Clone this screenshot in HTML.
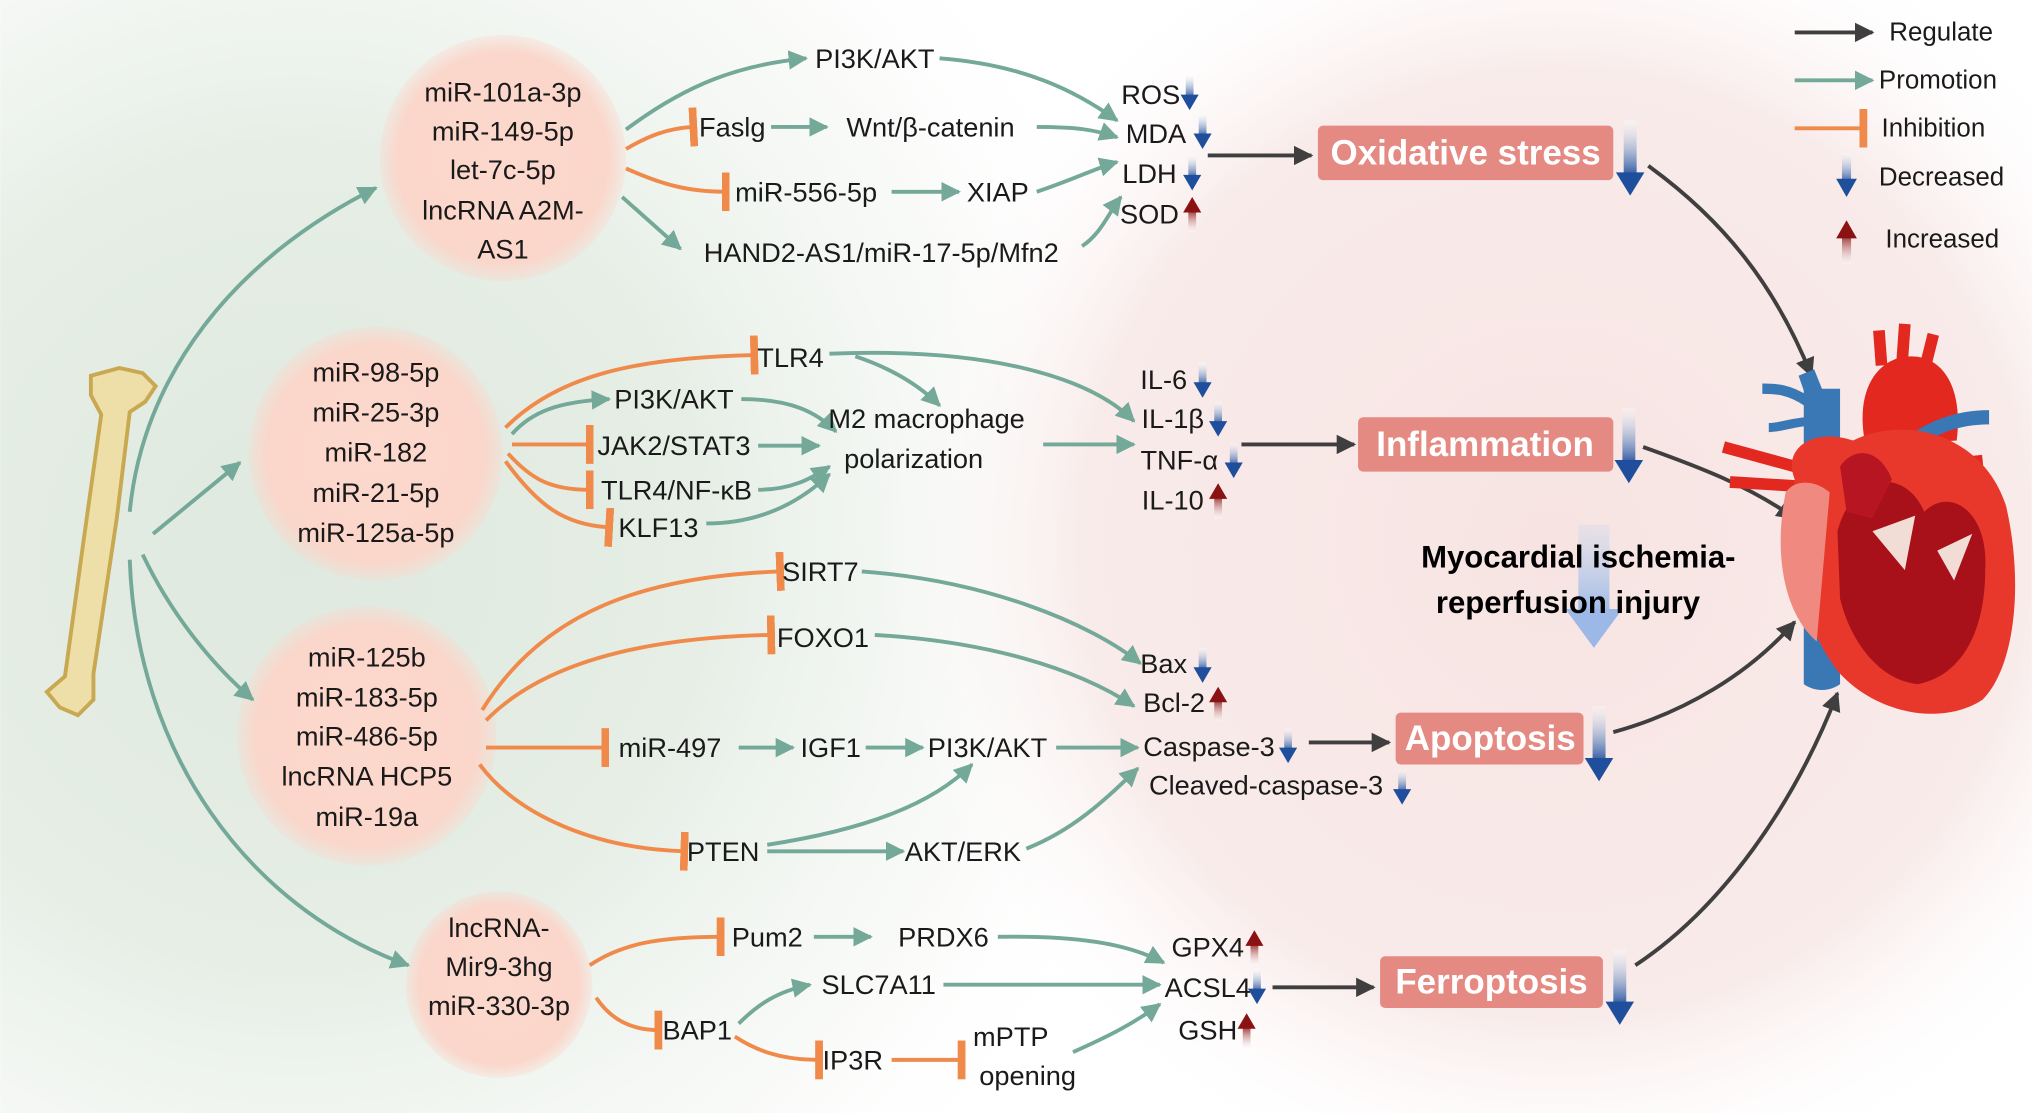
<!DOCTYPE html>
<html><head><meta charset="utf-8"><style>
html,body{margin:0;padding:0;background:#fff;}
svg{display:block;}
text{font-family:"Liberation Sans",sans-serif;fill:#1a1a1a;}
</style></head><body>
<svg width="2032" height="1113" viewBox="0 0 1568 859" xmlns="http://www.w3.org/2000/svg">
<defs>
<radialGradient id="bgG" cx="230" cy="430" r="700" gradientUnits="userSpaceOnUse">
<stop offset="0" stop-color="#dfe9df"/><stop offset="0.45" stop-color="#e6eee6"/><stop offset="0.8" stop-color="#f6f8f5" stop-opacity="0.6"/><stop offset="1" stop-color="#fff" stop-opacity="0"/></radialGradient>
<radialGradient id="bgP" cx="1200" cy="420" r="520" gradientUnits="userSpaceOnUse">
<stop offset="0" stop-color="#f7e4e2"/><stop offset="0.7" stop-color="#f8ebea"/><stop offset="1" stop-color="#fff" stop-opacity="0"/></radialGradient>
<radialGradient id="circ"><stop offset="0" stop-color="#fdd8cc"/><stop offset="0.85" stop-color="#fbd6ca"/><stop offset="1" stop-color="#fbd6ca" stop-opacity="0.3"/></radialGradient>
<linearGradient id="blue" x1="0" y1="0" x2="0" y2="1"><stop offset="0" stop-color="#fff" stop-opacity="0.3"/><stop offset="1" stop-color="#1f4e9c"/></linearGradient>
<linearGradient id="red" x1="0" y1="1" x2="0" y2="0"><stop offset="0" stop-color="#fff" stop-opacity="0.3"/><stop offset="1" stop-color="#8a1212"/></linearGradient>
<linearGradient id="lblue" x1="0" y1="0" x2="0" y2="1"><stop offset="0" stop-color="#c8d6ee" stop-opacity="0.3"/><stop offset="1" stop-color="#9bb8e6"/></linearGradient>
<marker id="ag" viewBox="0 0 10 10" refX="9" refY="5" markerWidth="5" markerHeight="5" orient="auto" markerUnits="strokeWidth"><path d="M0,0L10,5L0,10z" fill="#74a898"/></marker>
<marker id="ad" viewBox="0 0 10 10" refX="9" refY="5" markerWidth="5" markerHeight="5" orient="auto" markerUnits="strokeWidth"><path d="M0,0L10,5L0,10z" fill="#3f3f3f"/></marker>
<marker id="bo" viewBox="0 0 4 20" refX="2" refY="10" markerWidth="2" markerHeight="10" orient="auto" markerUnits="strokeWidth"><rect x="0" y="0" width="4" height="20" fill="#f08a4b"/></marker>
<g id="bd"><rect x="-3" y="0" width="6" height="18" fill="url(#blue)"/><path d="M-7,15L7,15L0,27z" fill="#1f4e9c"/></g>
<g id="ru"><rect x="-3" y="9" width="6" height="18" fill="url(#red)"/><path d="M-7,12L7,12L0,0z" fill="#8a1212"/></g>
<g id="bb"><rect x="-5" y="0" width="10" height="44" fill="url(#blue)"/><path d="M-11,40L11,40L0,58z" fill="#1f4e9c"/></g>
</defs>
<rect width="1568" height="859" fill="#fff"/>
<rect width="1568" height="859" fill="url(#bgG)"/>
<rect width="1568" height="859" fill="url(#bgP)"/>

<!-- bone -->
<path d="M70,290 L92,284 L110,288 L120,298 L112,310 L100,318 L90,400 L72,520 L72,540 L60,552 L46,546 L36,534 L50,522 L64,420 L78,320 L70,305z" fill="#eedfa8" stroke="#c9a852" stroke-width="3"/>

<!-- circles -->
<circle cx="388" cy="122" r="95" fill="url(#circ)"/>
<circle cx="290" cy="350" r="98" fill="url(#circ)"/>
<circle cx="283" cy="568" r="100" fill="url(#circ)"/>
<circle cx="385" cy="760" r="72" fill="url(#circ)"/>

<g font-size="21" text-anchor="middle" dominant-baseline="central">
<text x="388" y="71">miR-101a-3p</text><text x="388" y="101">miR-149-5p</text><text x="388" y="131">let-7c-5p</text><text x="388" y="162">lncRNA A2M-</text><text x="388" y="192">AS1</text>
<text x="290" y="287">miR-98-5p</text><text x="290" y="318">miR-25-3p</text><text x="290" y="349">miR-182</text><text x="290" y="380">miR-21-5p</text><text x="290" y="411">miR-125a-5p</text>
<text x="283" y="507">miR-125b</text><text x="283" y="538">miR-183-5p</text><text x="283" y="568">miR-486-5p</text><text x="283" y="599">lncRNA HCP5</text><text x="283" y="630">miR-19a</text>
<text x="385" y="716">lncRNA-</text><text x="385" y="746">Mir9-3hg</text><text x="385" y="776">miR-330-3p</text>
</g>

<!-- bone arrows -->
<g fill="none" stroke="#74a898" stroke-width="3" marker-end="url(#ag)">
<path d="M100,395 C110,290 180,200 290,145"/>
<path d="M118,412 L185,357"/>
<path d="M110,428 C130,470 160,510 195,540"/>
<path d="M100,432 C105,580 190,700 315,745"/>
</g>

<!-- green arrows -->
<g fill="none" stroke="#74a898" stroke-width="3" marker-end="url(#ag)">
<path d="M483,100 C530,65 570,50 622,45"/>
<path d="M725,45 C790,50 830,70 862,93"/>
<path d="M595,98 L638,98"/>
<path d="M800,98 C830,98 845,100 862,106"/>
<path d="M688,148 L740,148"/>
<path d="M800,148 C830,138 845,130 862,125"/>
<path d="M480,152 L525,192"/>
<path d="M835,190 C850,180 855,165 865,152"/>
<path d="M640,273 C760,268 840,290 875,325"/>
<path d="M660,275 C690,285 710,298 725,313"/>
<path d="M395,335 C410,318 430,310 470,308"/>
<path d="M572,308 C610,308 630,318 645,333"/>
<path d="M585,344 L632,344"/>
<path d="M585,378 C610,378 625,370 640,360"/>
<path d="M545,404 C590,404 620,385 640,366"/>
<path d="M805,343 L875,343"/>
<path d="M665,441 C760,448 840,480 880,512"/>
<path d="M675,490 C760,495 830,515 875,545"/>
<path d="M570,577 L612,577"/>
<path d="M668,577 L712,577"/>
<path d="M815,577 L878,577"/>
<path d="M592,657 L697,657"/>
<path d="M592,652 C670,640 720,620 750,590"/>
<path d="M792,655 C830,640 855,615 878,593"/>
<path d="M628,723 L672,723"/>
<path d="M770,723 C830,722 870,728 898,743"/>
<path d="M570,790 C585,775 600,765 625,760"/>
<path d="M728,760 L895,760"/>
<path d="M828,812 C855,800 875,790 895,775"/>
</g>

<!-- orange inhibition -->
<g fill="none" stroke="#f08a4b" stroke-width="3" marker-end="url(#bo)">
<path d="M483,115 C500,105 515,99 535,98"/>
<path d="M483,130 C510,142 530,148 560,148"/>
<path d="M390,330 C430,290 490,276 582,274"/>
<path d="M395,343 L455,343"/>
<path d="M392,350 C410,370 425,378 455,378"/>
<path d="M390,356 C415,390 435,405 470,407"/>
<path d="M372,548 C420,470 500,445 602,441"/>
<path d="M375,556 C420,510 500,492 595,490"/>
<path d="M375,577 L467,577"/>
<path d="M370,590 C400,630 460,655 528,657"/>
<path d="M455,745 C480,728 510,723 556,723"/>
<path d="M460,770 C470,785 485,795 508,795"/>
<path d="M567,800 C585,812 605,818 632,818"/>
<path d="M688,818 L742,818"/>
</g>

<g font-size="21" dominant-baseline="central" text-anchor="middle">
<text x="675" y="45">PI3K/AKT</text><text x="565" y="98">Faslg</text><text x="718" y="98">Wnt/β-catenin</text>
<text x="622" y="148">miR-556-5p</text><text x="770" y="148">XIAP</text><text x="680" y="195">HAND2-AS1/miR-17-5p/Mfn2</text>
<text x="888" y="73">ROS</text><text x="892" y="103">MDA</text><text x="887" y="134">LDH</text><text x="887" y="165">SOD</text>
<text x="610" y="276">TLR4</text><text x="520" y="308">PI3K/AKT</text><text x="520" y="344">JAK2/STAT3</text><text x="522" y="378">TLR4/NF-κB</text><text x="508" y="407">KLF13</text>
<text x="715" y="323">M2 macrophage</text><text x="705" y="354">polarization</text>
<text x="898" y="293">IL-6</text><text x="905" y="323">IL-1β</text><text x="910" y="355">TNF-α</text><text x="905" y="386">IL-10</text>
<text x="633" y="441">SIRT7</text><text x="635" y="492">FOXO1</text><text x="517" y="577">miR-497</text><text x="641" y="577">IGF1</text><text x="762" y="577">PI3K/AKT</text>
<text x="558" y="657">PTEN</text><text x="743" y="657">AKT/ERK</text>
<text x="898" y="512">Bax</text><text x="906" y="542">Bcl-2</text><text x="933" y="576">Caspase-3</text><text x="977" y="606">Cleaved-caspase-3</text>
<text x="592" y="723">Pum2</text><text x="728" y="723">PRDX6</text><text x="538" y="795">BAP1</text><text x="678" y="760">SLC7A11</text>
<text x="658" y="818">IP3R</text><text x="780" y="800">mPTP</text><text x="793" y="830">opening</text>
<text x="932" y="731">GPX4</text><text x="932" y="762">ACSL4</text><text x="932" y="795">GSH</text>
</g>

<!-- small up/down -->
<use href="#bd" x="918" y="58"/><use href="#bd" x="928" y="88"/><use href="#bd" x="920" y="120"/><use href="#ru" x="920" y="152"/>
<use href="#bd" x="928" y="280"/><use href="#bd" x="940" y="310"/><use href="#bd" x="952" y="342"/><use href="#ru" x="940" y="373"/>
<use href="#bd" x="928" y="500"/><use href="#ru" x="940" y="530"/><use href="#bd" x="994" y="562"/><use href="#bd" x="1082" y="594"/>
<use href="#ru" x="968" y="718"/><use href="#bd" x="970" y="748"/><use href="#ru" x="962" y="782"/>

<!-- myocardial -->
<rect x="1218" y="405" width="24" height="70" fill="url(#lblue)"/><path d="M1208,470L1252,470L1230,500z" fill="#9bb8e6"/>
<g font-size="24" font-weight="bold" text-anchor="middle" dominant-baseline="central">
<text x="1218" y="430" style="fill:#000">Myocardial ischemia-</text><text x="1210" y="465" style="fill:#000">reperfusion injury</text></g>

<!-- dark arrows -->
<g fill="none" stroke="#3f3f3f" stroke-width="3" marker-end="url(#ad)">
<path d="M932,120 L1012,120"/><path d="M958,343 L1045,343"/><path d="M1010,573 L1072,573"/><path d="M982,762 L1060,762"/>
<path d="M1272,128 C1330,170 1370,220 1398,290"/>
<path d="M1268,345 C1310,360 1350,375 1385,400"/>
<path d="M1245,565 C1300,550 1350,520 1385,480"/>
<path d="M1262,745 C1330,700 1385,620 1418,535"/>
</g>

<!-- boxes -->
<g font-size="27" font-weight="bold" text-anchor="middle" dominant-baseline="central">
<rect x="1017" y="97" width="228" height="42" rx="4" fill="#e48a82"/><text x="1131" y="118" style="fill:#fff">Oxidative stress</text>
<rect x="1048" y="322" width="197" height="42" rx="4" fill="#e48a82"/><text x="1146" y="343" style="fill:#fff">Inflammation</text>
<rect x="1077" y="550" width="145" height="40" rx="4" fill="#e48a82"/><text x="1150" y="570" style="fill:#fff">Apoptosis</text>
<rect x="1065" y="738" width="172" height="40" rx="4" fill="#e48a82"/><text x="1151" y="758" style="fill:#fff">Ferroptosis</text>
</g>
<use href="#bb" x="1258" y="93"/><use href="#bb" x="1257" y="315"/><use href="#bb" x="1234" y="545"/><use href="#bb" x="1250" y="733"/>

<!-- heart -->
<g>
<!-- vena cava -->
<path d="M1392,300 L1392,528 C1400,534 1412,534 1420,528 L1420,300z" fill="#3a78b5"/>
<path d="M1395,310 L1388,290 L1400,285 L1408,305" fill="#3a78b5"/>
<path d="M1395,310 C1380,300 1370,300 1360,300" stroke="#3a78b5" stroke-width="8" fill="none"/>
<path d="M1400,325 C1385,325 1375,330 1365,330" stroke="#3a78b5" stroke-width="7" fill="none"/>
<!-- aorta -->
<path d="M1440,345 C1430,300 1450,275 1475,275 C1500,275 1515,300 1510,340z" fill="#e2281f"/>
<path d="M1452,282 L1450,255 M1468,278 L1470,250 M1486,282 L1492,258" stroke="#e2281f" stroke-width="9"/>
<!-- pulmonary arteries -->
<path d="M1330,345 L1385,360 M1335,372 L1385,375" stroke="#e2281f" stroke-width="9"/>
<path d="M1530,355 L1480,360 M1530,375 L1480,375" stroke="#e2281f" stroke-width="8"/>
<path d="M1535,322 C1510,322 1490,330 1470,345" stroke="#3a78b5" stroke-width="11" fill="none"/>
<!-- body -->
<path d="M1385,370 C1375,345 1400,330 1430,340 C1470,320 1530,335 1548,390 C1562,450 1555,515 1530,540 C1500,560 1450,552 1420,520 C1395,490 1375,430 1385,370z" fill="#e8382b"/>
<path d="M1378,380 C1368,430 1378,475 1402,495 L1412,380 C1400,370 1385,370 1378,380z" fill="#f08a80"/>
<path d="M1418,410 C1430,365 1470,360 1485,395 C1505,375 1535,395 1532,440 C1532,490 1512,522 1480,528 C1450,525 1428,495 1420,462z" fill="#a8101a"/>
<path d="M1420,360 C1430,345 1450,345 1460,370 L1445,400 L1425,395z" fill="#b81522"/>
<path d="M1445,410 L1478,398 L1470,440z M1495,425 L1522,412 L1508,448z" fill="#f2dcd6"/>
</g>

<!-- legend -->
<g fill="none" stroke-width="3">
<path d="M1385,25 L1445,25" stroke="#3f3f3f" marker-end="url(#ad)"/>
<path d="M1385,62 L1445,62" stroke="#74a898" marker-end="url(#ag)"/>
<path d="M1385,99 L1438,99" stroke="#f08a4b" marker-end="url(#bo)"/>
</g>
<g transform="translate(1425,118)"><rect x="-3.5" y="0" width="7" height="24" fill="url(#blue)"/><path d="M-8,20L8,20L0,34z" fill="#1f4e9c"/></g>
<g transform="translate(1425,170)"><rect x="-3.5" y="10" width="7" height="24" fill="url(#red)"/><path d="M-8,14L8,14L0,0z" fill="#8a1212"/></g>
<g font-size="20" dominant-baseline="central">
<text x="1458" y="25">Regulate</text><text x="1450" y="62">Promotion</text><text x="1452" y="99">Inhibition</text><text x="1450" y="137">Decreased</text><text x="1455" y="185">Increased</text>
</g>
</svg>
</body></html>
